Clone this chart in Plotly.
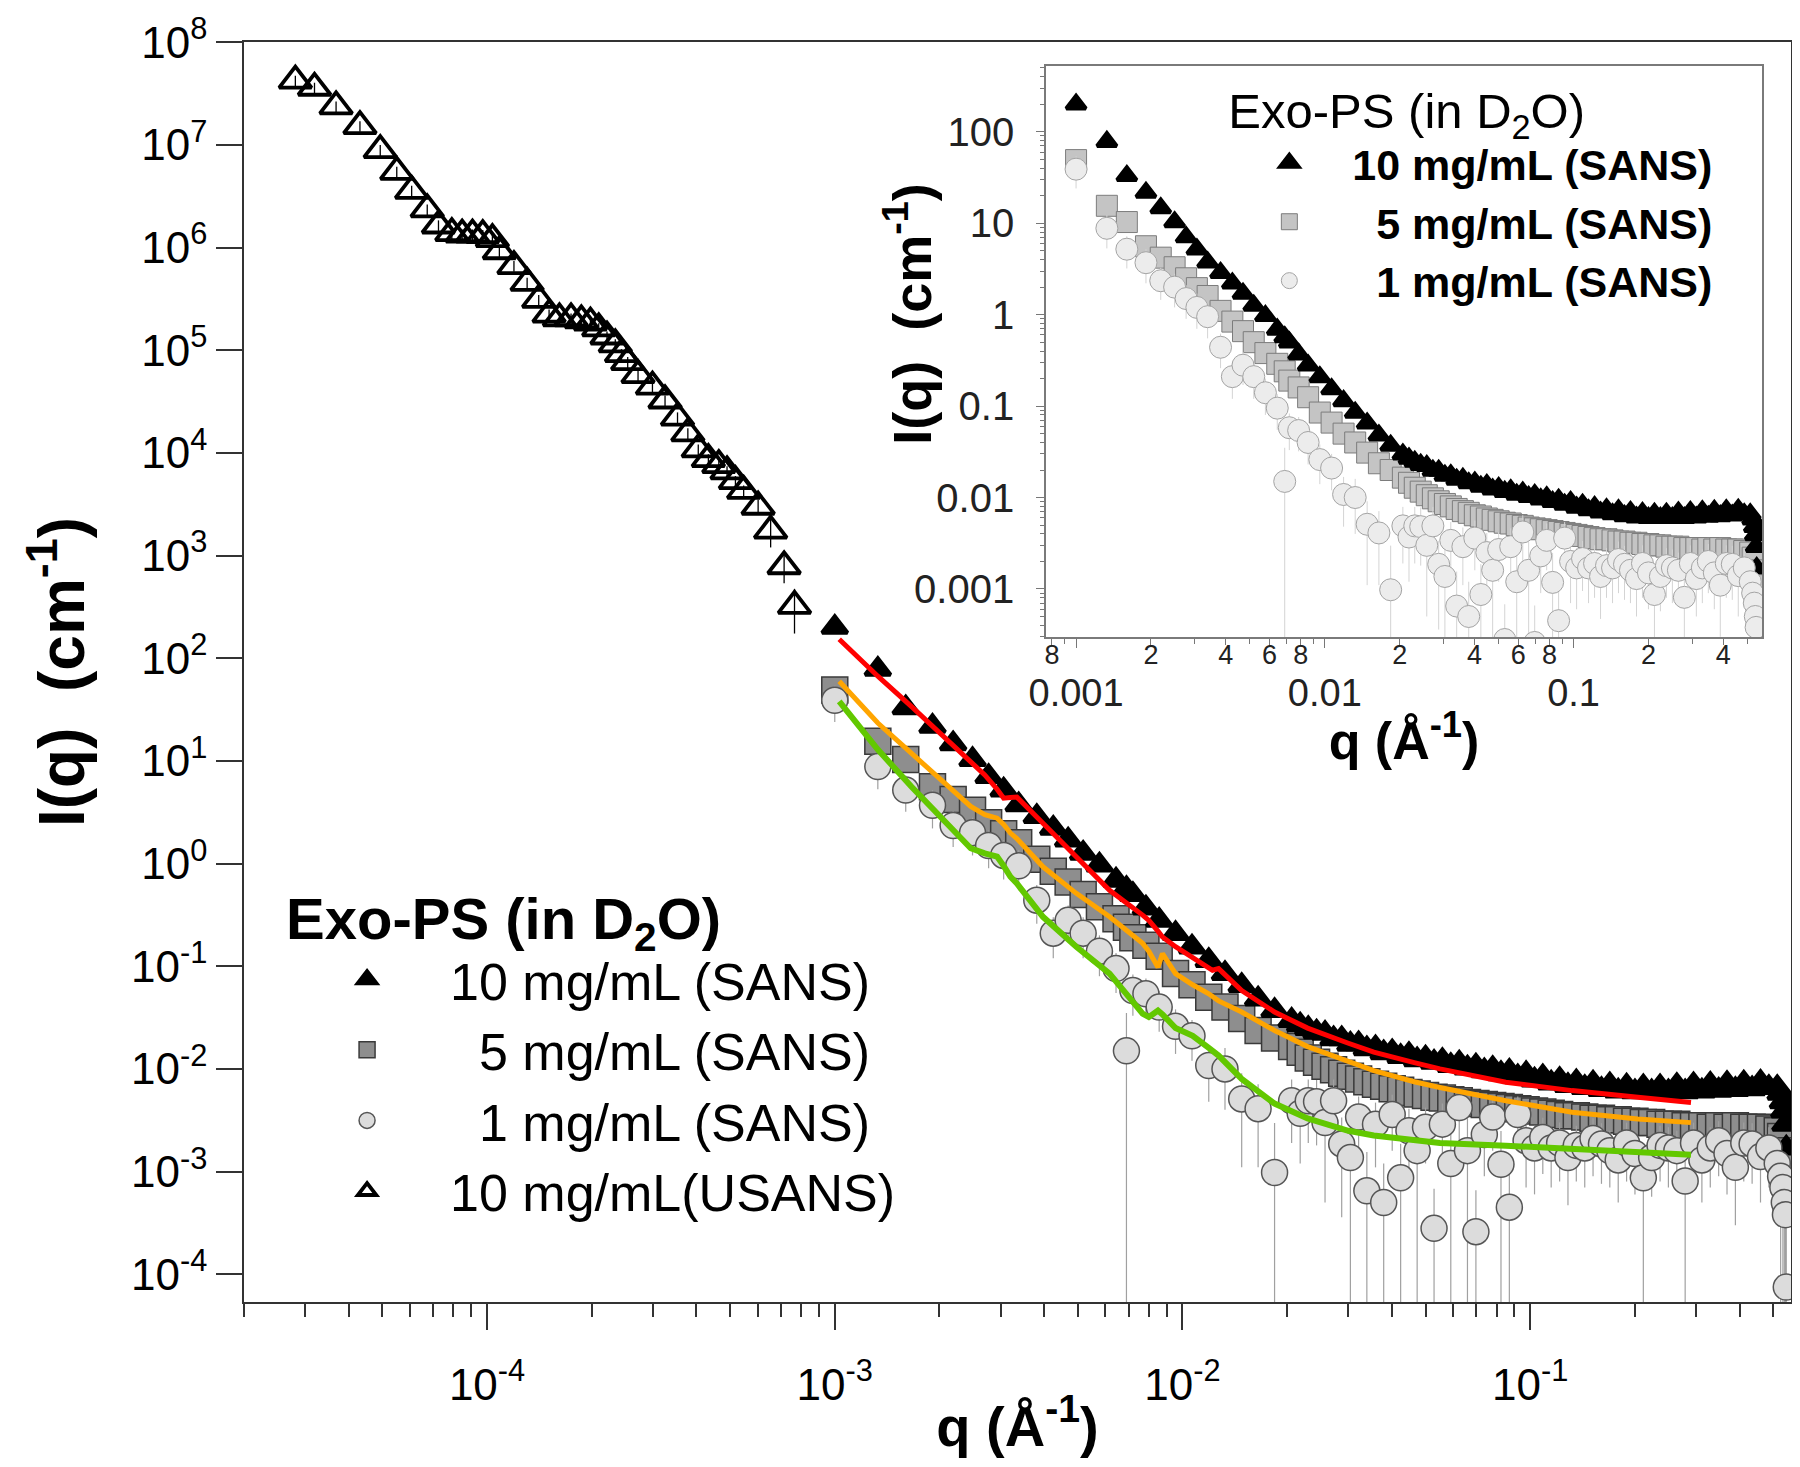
import math
import plotly.graph_objects as go

FONT = "Liberation Sans, Arial, Helvetica, sans-serif"

# ---------------- data ----------------
# USANS, 10 mg/mL
q_usans = [2.81e-5, 3.19e-5, 3.68e-5, 4.31e-5, 4.93e-5, 5.50e-5, 6.07e-5, 6.73e-5, 7.25e-5, 7.92e-5,
           8.48e-5, 9.08e-5, 9.72e-5, 1.036e-4, 1.085e-4, 1.195e-4, 1.304e-4, 1.408e-4, 1.508e-4, 1.615e-4,
           1.744e-4, 1.867e-4, 1.983e-4, 2.095e-4, 2.213e-4, 2.338e-4, 2.436e-4, 2.538e-4, 2.718e-4, 2.99e-4,
           3.25e-4, 3.53e-4, 3.78e-4, 4.05e-4, 4.33e-4, 4.64e-4, 4.90e-4, 5.18e-4, 5.47e-4, 6.02e-4,
           6.54e-4, 7.15e-4, 7.66e-4]
I_usans = [4.22e7, 3.6e7, 2.37e7, 1.52e7, 8.9e6, 5.46e6, 3.56e6, 2.35e6, 1.64e6, 1.38e6,
           1.34e6, 1.34e6, 1.32e6, 1.21e6, 9.2e5, 6.6e5, 4.53e5, 3.09e5, 2.22e5, 2.04e5,
           2.04e5, 1.95e5, 1.86e5, 1.63e5, 1.36e5, 1.14e5, 9.15e4, 7.65e4, 5.71e4, 4.42e4,
           3.24e4, 2.21e4, 1.55e4, 1.08e4, 8.7e3, 7.6e3, 6.6e3, 5.3e3, 4.26e3, 2.99e3,
           1.75e3, 787, 324]
err_usans = [5e6, 4.3e6, 2.8e6, 1.8e6, 1.1e6, 6.5e5, 4.3e5, 2.8e5, 2.0e5, 1.7e5,
             1.6e5, 1.6e5, 1.6e5, 1.5e5, 1.1e5, 8e4, 5.4e4, 3.7e4, 2.7e4, 2.4e4,
             2.4e4, 2.3e4, 2.2e4, 2.0e4, 1.6e4, 1.4e4, 1.1e4, 9.2e3, 6.9e3, 5.3e3,
             3.9e3, 2.7e3, 1.9e3, 1.3e3, 1.0e3, 900, 800, 650, 550, 500,
             550, 250, 150]

# SANS (same q grid for the three concentrations)
q_sans = [0.00100, 0.00133, 0.00160, 0.00191, 0.00219, 0.00249, 0.00277, 0.00306, 0.00338, 0.00381,
          0.00425, 0.00469, 0.00518, 0.00577, 0.00644, 0.00690, 0.00720, 0.00785, 0.00857, 0.00955,
          0.01065, 0.0119, 0.01325, 0.0148, 0.0165, 0.0184, 0.0206, 0.0218, 0.0230, 0.0243,
          0.0257, 0.0272, 0.0287, 0.0304, 0.0321, 0.0339, 0.0359, 0.0379, 0.0401, 0.0424,
          0.0448, 0.0473, 0.0500, 0.0529, 0.0559, 0.0591, 0.0625, 0.0660, 0.0698, 0.0738,
          0.0780, 0.0824, 0.0871, 0.0921, 0.0973, 0.1029, 0.1087, 0.1149, 0.1215, 0.1284,
          0.1357, 0.1435, 0.1516, 0.1603, 0.1694, 0.1791, 0.1893, 0.2001, 0.2115, 0.2235,
          0.2363, 0.2497, 0.2640, 0.2790, 0.2949, 0.3117, 0.3295, 0.3483, 0.3681, 0.3891,
          0.4113, 0.4347, 0.4595, 0.4857, 0.5134, 0.5250, 0.5330, 0.5380, 0.5420, 0.5450]
I_10 = [200, 78, 33, 21.7, 14.7, 10.3, 7.05, 5.2, 3.74, 2.87,
        2.21, 1.70, 1.26, 0.97, 0.69, 0.57, 0.50, 0.37, 0.28, 0.208,
        0.154, 0.114, 0.085, 0.065, 0.048, 0.037, 0.0297, 0.0268, 0.0247, 0.0229,
        0.0222, 0.0197, 0.0197, 0.0174, 0.0176, 0.0157, 0.0161, 0.0144, 0.0147, 0.0132,
        0.0138, 0.0123, 0.0128, 0.0116, 0.0121, 0.0108, 0.0114, 0.0102, 0.0107, 0.0096,
        0.0101, 0.0090, 0.0095, 0.0084, 0.0090, 0.0078, 0.0084, 0.0073, 0.0079, 0.0069,
        0.0075, 0.0066, 0.0073, 0.0063, 0.0070, 0.0061, 0.0068, 0.0060, 0.0067, 0.0060,
        0.0067, 0.0060, 0.0069, 0.0060, 0.0070, 0.0061, 0.0071, 0.0062, 0.0072, 0.0063,
        0.0073, 0.0064, 0.0074, 0.0066, 0.0066, 0.0058, 0.0048, 0.0039, 0.0029, 0.0017]
I_5 = [49, 15.5, 10.3, 5.6, 4.2, 3.3, 2.5, 1.95, 1.6, 1.10,
       0.84, 0.66, 0.50, 0.38, 0.29, 0.24, 0.19, 0.16, 0.125, 0.085,
       0.066, 0.050, 0.040, 0.031, 0.0237, 0.020, 0.0165, 0.0145, 0.0128, 0.0116,
       0.0106, 0.0098, 0.0091, 0.0085, 0.0080, 0.0075, 0.0071, 0.0068, 0.0064, 0.0062,
       0.0059, 0.0057, 0.0055, 0.0053, 0.0052, 0.0050, 0.0049, 0.0047, 0.0046, 0.0045,
       0.0044, 0.0043, 0.0042, 0.0041, 0.0040, 0.0039, 0.0038, 0.0037, 0.0036, 0.0035,
       0.0035, 0.0034, 0.0033, 0.0033, 0.0032, 0.0032, 0.0031, 0.0031, 0.0030, 0.0030,
       0.0029, 0.0029, 0.0029, 0.0028, 0.0028, 0.0028, 0.0027, 0.0028, 0.0027, 0.0028,
       0.0027, 0.0027, 0.0027, 0.0026, 0.0025, 0.0022, 0.0016, 0.0011, 0.0008, 0.0005]
I_1 = [39, 8.8, 5.2, 3.7, 2.35, 2.0, 1.5, 1.2, 0.95, 0.44,
       0.21, 0.28, 0.21, 0.14, 0.095, 0.015, 0.058, 0.054, 0.040, 0.026,
       0.021, 0.0108, 0.0100, 0.0051, 0.0041, 0.00098, 0.0049, 0.0037, 0.0049, 0.0048,
       0.0030, 0.0049, 0.00186, 0.00137, 0.0034, 0.00065, 0.0029, 0.0005, 0.0036, 0.00087,
       0.0025, 0.0016, 0.0027, 0.00028, 0.0029, 0.0012, 0.0042, 0.0016, 0.00026, 0.0023,
       0.0034, 0.00118, 0.00045, 0.0036, 0.0020, 0.0017, 0.00215, 0.0017, 0.0019, 0.00137,
       0.0018, 0.0017, 0.0021, 0.00186, 0.0016, 0.0013, 0.0019, 0.0015, 0.00087, 0.00137,
       0.0018, 0.0017, 0.0016, 0.00081, 0.0019, 0.0013, 0.0017, 0.0020, 0.0015, 0.0011,
       0.0019, 0.00186, 0.0014, 0.0017, 0.0012, 0.0009, 0.0007, 0.0005, 0.00038, 0.000075]
err_1 = [15, 3.5, 2.0, 1.5, 0.9, 0.8, 0.6, 0.5, 0.4, 0.18,
         0.09, 0.11, 0.09, 0.06, 0.04, 0.02, 0.025, 0.022, 0.017, 0.012,
         0.009, 0.006, 0.006, 0.004, 0.003, 0.002, 0.003, 0.0025, 0.003, 0.003,
         0.0025, 0.003, 0.0015, 0.0016, 0.002, 0.0009, 0.0018, 0.0007, 0.002, 0.001,
         0.0016, 0.0017, 0.0015, 0.0004, 0.0017, 0.0013, 0.0022, 0.0017, 0.0004, 0.0014,
         0.0018, 0.0013, 0.0006, 0.0018, 0.0013, 0.0011, 0.0012, 0.0010, 0.0011, 0.0009,
         0.0010, 0.0010, 0.0012, 0.0011, 0.0009, 0.0008, 0.0011, 0.0009, 0.0009, 0.0008,
         0.0010, 0.0010, 0.0009, 0.0008, 0.0011, 0.0008, 0.0010, 0.0011, 0.0009, 0.0008,
         0.0011, 0.0011, 0.0009, 0.0010, 0.0008, 0.0010, 0.0008, 0.0006, 0.0004, 0.0003]

# model fits
q_fit = [0.00103, 0.00133, 0.00166, 0.00206, 0.00246, 0.00270, 0.00293, 0.00306, 0.00320, 0.00334,
         0.00397, 0.00495, 0.00617, 0.00768, 0.00800, 0.00850, 0.00876, 0.00955, 0.0107, 0.0119,
         0.0122, 0.0127, 0.0148, 0.0184, 0.0229, 0.0300, 0.0355, 0.0464, 0.0550, 0.0851,
         0.132, 0.204, 0.290]
fit_10 = [153, 66.8, 34, 17.3, 9.9, 7.3, 5.3, 4.34, 4.40, 4.44,
          2.47, 1.17, 0.55, 0.315, 0.28, 0.22, 0.193, 0.155, 0.123, 0.096,
          0.0914, 0.0948, 0.058, 0.0358, 0.025, 0.0178, 0.01455, 0.0115, 0.0100, 0.00741,
          0.00615, 0.0053, 0.0047]
fit_5 = [59.7, 23.4, 11.9, 6.08, 3.6, 3.0, 2.77, 2.4, 1.98, 1.75,
         0.93, 0.513, 0.303, 0.167, 0.140, 0.098, 0.133, 0.0848, 0.066, 0.054,
         0.051, 0.046, 0.0358, 0.0237, 0.0165, 0.0118, 0.00964, 0.0075, 0.0066, 0.0049,
         0.00378, 0.00326, 0.0030]
fit_1 = [38.1, 12.9, 5.63, 2.67, 1.41, 1.26, 1.17, 0.95, 0.744, 0.64,
         0.303, 0.155, 0.0848, 0.0345, 0.032, 0.0371, 0.034, 0.025, 0.021, 0.016,
         0.015, 0.0135, 0.0080, 0.0046, 0.0033, 0.0025, 0.00225, 0.0020, 0.0019, 0.00179,
         0.00166, 0.00154, 0.00146]

# text
legend_title = "Exo-PS (in D<sub>2</sub>O)"
names = ["10 mg/mL (SANS)", "\u00a0\u00a05 mg/mL (SANS)", "\u00a0\u00a01 mg/mL (SANS)", "10 mg/mL(USANS)"]
x_title = "q (Å<sup>-1</sup>)"
y_title = "I(q)\u00a0\u00a0(cm<sup>-1</sup>)"

main_x_ticks = [1e-4, 1e-3, 1e-2, 1e-1]
main_x_labels = ["10<sup>-4</sup>", "10<sup>-3</sup>", "10<sup>-2</sup>", "10<sup>-1</sup>"]
main_y_ticks = [1e-4, 1e-3, 1e-2, 1e-1, 1e0, 1e1, 1e2, 1e3, 1e4, 1e5, 1e6, 1e7, 1e8]
main_y_labels = ["10<sup>-4</sup>", "10<sup>-3</sup>", "10<sup>-2</sup>", "10<sup>-1</sup>", "10<sup>0</sup>",
                 "10<sup>1</sup>", "10<sup>2</sup>", "10<sup>3</sup>", "10<sup>4</sup>", "10<sup>5</sup>",
                 "10<sup>6</sup>", "10<sup>7</sup>", "10<sup>8</sup>"]
inset_x_minor_ticks = [8e-4, 2e-3, 4e-3, 6e-3, 8e-3, 2e-2, 4e-2, 6e-2, 8e-2, 2e-1, 4e-1]
inset_x_minor_labels = ["8", "2", "4", "6", "8", "2", "4", "6", "8", "2", "4"]
inset_x_major_ticks = [1e-3, 1e-2, 1e-1]
inset_x_major_labels = ["0.001", "0.01", "0.1"]
inset_y_ticks = [1e-3, 1e-2, 1e-1, 1e0, 1e1, 1e2]
inset_y_labels = ["0.001", "0.01", "0.1", "1", "10", "100"]

# ---------------- axis ranges ----------------
main_x_range = [math.log10(2e-5), -0.25]
main_y_range = [-4.27, 8.002]
inset_x_range = [-3.121, -0.242]
inset_y_range = [-3.525, 2.72]
inset_x_domain = [0.5184, 0.9813]
inset_y_domain = [0.5278, 0.9810]

def minor_vals(lo, hi):
    out = []
    for e in range(-6, 4):
        for m in range(2, 10):
            v = m * 10.0 ** e
            if 10 ** lo <= v <= 10 ** hi:
                out.append(v)
    return out

main_x_minor = minor_vals(*main_x_range)
inset_x_unlabeled = [v for v in minor_vals(*inset_x_range)
                     if not any(abs(v - t) / t < 1e-6 for t in inset_x_minor_ticks)]
inset_y_minor = minor_vals(*inset_y_range)

# ---------------- figure ----------------
fig = go.Figure()

# main plot
fig.add_trace(go.Scatter(
    x=q_sans, y=I_5, mode="markers", name=names[1], legend="legend", legendrank=2,
    marker=dict(symbol="square", size=26, color="#8e8e8e", line=dict(color="#3a3a3a", width=1.5)),
    xaxis="x", yaxis="y"))
fig.add_trace(go.Scatter(
    x=q_sans, y=I_10, mode="markers", name=names[0], legend="legend", legendrank=1,
    marker=dict(symbol="triangle-up", size=22, color="black", line=dict(color="black", width=4)),
    xaxis="x", yaxis="y"))
fig.add_trace(go.Scatter(
    x=q_sans, y=I_1, mode="markers", name=names[2], legend="legend", legendrank=3,
    marker=dict(symbol="circle", size=26, color="#dcdcdc", line=dict(color="#555555", width=1.5)),
    error_y=dict(type="data", array=err_1, visible=True, color="#a0a0a0", thickness=1.2, width=0),
    xaxis="x", yaxis="y"))
fig.add_trace(go.Scatter(
    x=q_usans, y=I_usans, mode="markers", name=names[3], legend="legend", legendrank=4,
    marker=dict(symbol="triangle-up-open", size=28, color="black", line=dict(color="black", width=3.8)),
    error_y=dict(type="data", array=err_usans, visible=True, color="black", thickness=1.3, width=0),
    xaxis="x", yaxis="y"))
for fit, col, w in [(fit_10, "#ff0000", 5), (fit_5, "#ffa500", 5), (fit_1, "#62c800", 6)]:
    fig.add_trace(go.Scatter(x=q_fit, y=fit, mode="lines", line=dict(color=col, width=w),
                             showlegend=False, hoverinfo="skip", xaxis="x", yaxis="y"))

# inset
fig.add_trace(go.Scatter(
    x=q_sans, y=I_5, mode="markers", name="<b>" + names[1] + "</b>", legend="legend2", legendrank=2,
    marker=dict(symbol="square", size=21, color="#c4c4c4", line=dict(color="#7c7c7c", width=1)),
    xaxis="x2", yaxis="y2"))
fig.add_trace(go.Scatter(
    x=q_sans, y=I_10, mode="markers", name="<b>" + names[0] + "</b>", legend="legend2", legendrank=1,
    marker=dict(symbol="triangle-up", size=17, color="black", line=dict(color="black", width=4)),
    xaxis="x2", yaxis="y2"))
fig.add_trace(go.Scatter(
    x=q_sans, y=I_1, mode="markers", name="<b>" + names[2] + "</b>", legend="legend2", legendrank=3,
    marker=dict(symbol="circle", size=22, color="#ececec", line=dict(color="#a4a4a4", width=1)),
    error_y=dict(type="data", array=err_1, visible=True, color="#d4d4d4", thickness=1, width=0),
    xaxis="x2", yaxis="y2"))

# empty traces that register the overlay axes (titles / second label row)
fig.add_trace(go.Scatter(x=[], y=[], xaxis="x3", yaxis="y", showlegend=False, hoverinfo="skip"))
fig.add_trace(go.Scatter(x=[], y=[], xaxis="x2", yaxis="y3", showlegend=False, hoverinfo="skip"))
fig.add_trace(go.Scatter(x=[], y=[], xaxis="x4", yaxis="y2", showlegend=False, hoverinfo="skip"))
fig.add_trace(go.Scatter(x=[], y=[], xaxis="x5", yaxis="y2", showlegend=False, hoverinfo="skip"))

axis_common = dict(showgrid=False, zeroline=False, automargin=False, ticks="outside")
title_axis = dict(showgrid=False, zeroline=False, automargin=False, ticks="", showticklabels=False,
                  showline=False, type="log")

fig.update_layout(
    width=1800, height=1467,
    margin=dict(l=236, r=17, t=34, b=173),
    paper_bgcolor="white", plot_bgcolor="white",
    font=dict(family=FONT, color="black"),
    showlegend=True,
    xaxis=dict(axis_common, type="log", range=main_x_range, domain=[0, 1], anchor="y",
               tickmode="array", tickvals=main_x_ticks, ticktext=main_x_labels, tickangle=0,
               ticklen=26, tickwidth=1.5, tickcolor="#333333",
               minor=dict(tickmode="array", tickvals=main_x_minor, ticks="outside", ticklen=13,
                          tickwidth=1.5, tickcolor="#333333", showgrid=False),
               showline=True, linecolor="#333333", linewidth=1.5, mirror=True,
               tickfont=dict(size=44, color="black"), ticklabelstandoff=17),
    xaxis3=dict(title_axis, range=main_x_range, domain=[0, 1], anchor="y", overlaying="x", side="bottom",
                title=dict(text="<b>" + x_title + "</b>", font=dict(size=56), standoff=104)),
    yaxis=dict(axis_common, type="log", range=main_y_range, domain=[0, 1], anchor="x",
               tickmode="array", tickvals=main_y_ticks, ticktext=main_y_labels,
               ticklen=26, tickwidth=1.5, tickcolor="#333333",
               showline=True, linecolor="#333333", linewidth=1.5, mirror=True,
               tickfont=dict(size=44, color="black"),
               title=dict(text="<b>" + y_title + "</b>", font=dict(size=64), standoff=26)),
    # inset: first label row (2, 4, 6, 8 ...)
    xaxis2=dict(axis_common, type="log", range=inset_x_range, domain=inset_x_domain, anchor="y2",
                tickmode="array", tickvals=inset_x_minor_ticks, ticktext=inset_x_minor_labels, tickangle=0,
                ticklen=6, tickwidth=1.2, tickcolor="#777777",
                minor=dict(tickmode="array", tickvals=inset_x_unlabeled, ticks="outside", ticklen=5,
                           tickwidth=1.2, tickcolor="#777777", showgrid=False),
                showline=True, linecolor="#7a7a7a", linewidth=1.5, mirror=True,
                tickfont=dict(size=27, color="#222222"), ticklabelstandoff=-13),
    # inset: second label row (0.001, 0.01, 0.1)
    xaxis4=dict(axis_common, type="log", range=inset_x_range, domain=inset_x_domain, anchor="y2",
                overlaying="x2", side="bottom",
                tickmode="array", tickvals=inset_x_major_ticks, ticktext=inset_x_major_labels, tickangle=0,
                ticklen=10, tickwidth=1.2, tickcolor="#777777", showline=False,
                tickfont=dict(size=38, color="#222222"), ticklabelstandoff=12),
    # inset: x title
    xaxis5=dict(title_axis, range=inset_x_range, domain=inset_x_domain, anchor="y2", overlaying="x2",
                side="bottom",
                title=dict(text="<b>" + x_title + "</b>", font=dict(size=52), standoff=85)),
    yaxis2=dict(axis_common, type="log", range=inset_y_range, domain=inset_y_domain, anchor="x2",
                tickmode="array", tickvals=inset_y_ticks, ticktext=inset_y_labels,
                ticklen=8, tickwidth=1.2, tickcolor="#777777",
                minor=dict(tickmode="array", tickvals=inset_y_minor, ticks="outside", ticklen=4,
                           tickwidth=1, tickcolor="#777777", showgrid=False),
                showline=True, linecolor="#7a7a7a", linewidth=1.5, mirror=True,
                tickfont=dict(size=40, color="#222222"), ticklabelstandoff=14),
    yaxis3=dict(title_axis, range=inset_y_range, domain=inset_y_domain, anchor="x2", overlaying="y2",
                side="left",
                title=dict(text="<b>\u00a0\u00a0\u00a0\u00a0\u00a0" + y_title + "</b>",
                           font=dict(size=54), standoff=96)),
    legend=dict(x=0.0259, y=0.348, xanchor="left", yanchor="top", bgcolor="rgba(0,0,0,0)",
                font=dict(family=FONT, size=52, color="black"), itemwidth=156,
                tracegroupgap=0, traceorder="normal", itemsizing="trace",
                title=dict(text="<b>" + legend_title + "</b>", font=dict(size=58))),
    legend2=dict(x=0.635, y=0.982, xanchor="left", yanchor="top", bgcolor="rgba(0,0,0,0)",
                 font=dict(family=FONT, size=43, color="black"), itemwidth=116,
                 tracegroupgap=0, traceorder="normal", itemsizing="trace",
                 title=dict(text=legend_title, font=dict(size=49))),
)

fig.write_html("out.html")
